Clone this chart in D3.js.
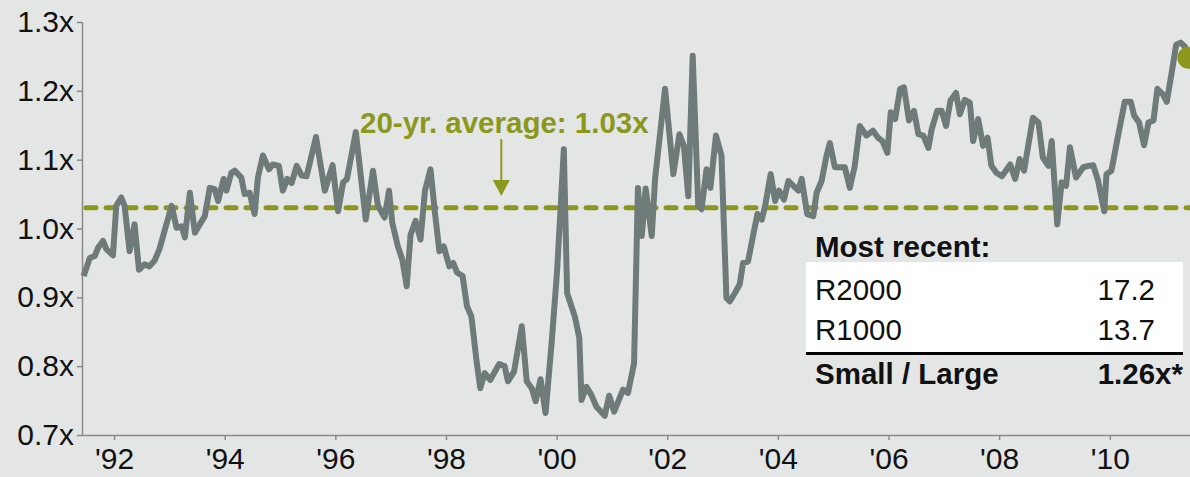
<!DOCTYPE html>
<html>
<head>
<meta charset="utf-8">
<script src="https://cdn.jsdelivr.net/npm/d3@7"></script>
<style>
  body { margin: 0; background: #e4e6e5; }
  svg { display: block; font-family: 'Liberation Sans', Arial, sans-serif; }
</style>
</head>
<body>
<svg width="1190" height="477"></svg>
<script>
const width = 1190, height = 477
const margin = { top: 22, right: 0, bottom: 42, left: 82 }

// Small / large cap forward P/E ratio
const years = [
  1991.45, 1991.56, 1991.65, 1991.71, 1991.80, 1991.86, 1991.98, 1992.04, 1992.13, 1992.19,
  1992.28, 1992.37, 1992.45, 1992.55, 1992.64, 1992.73, 1992.82, 1993.04, 1993.13, 1993.22,
  1993.28, 1993.37, 1993.46, 1993.55, 1993.64, 1993.73, 1993.82, 1993.88, 1993.98, 1994.03,
  1994.12, 1994.18, 1994.30, 1994.36, 1994.45, 1994.54, 1994.60, 1994.69, 1994.80, 1994.87,
  1994.98, 1995.05, 1995.13, 1995.21, 1995.30, 1995.39, 1995.48, 1995.65, 1995.81, 1995.95,
  1996.05, 1996.14, 1996.21, 1996.37, 1996.55, 1996.68, 1996.77, 1996.89, 1996.97, 1997.03,
  1997.13, 1997.21, 1997.29, 1997.36, 1997.45, 1997.54, 1997.62, 1997.72, 1997.80, 1997.88,
  1997.96, 1998.06, 1998.13, 1998.20, 1998.30, 1998.38, 1998.46, 1998.55, 1998.62, 1998.70,
  1998.80, 1998.96, 1999.06, 1999.12, 1999.23, 1999.37, 1999.46, 1999.55, 1999.62, 1999.71,
  1999.80, 1999.91, 2000.01, 2000.13, 2000.19, 2000.33, 2000.41, 2000.45, 2000.54, 2000.63,
  2000.72, 2000.87, 2000.95, 2001.04, 2001.20, 2001.29, 2001.40, 2001.47, 2001.54, 2001.61,
  2001.72, 2001.78, 2001.96, 2002.11, 2002.22, 2002.30, 2002.38, 2002.46, 2002.56, 2002.62,
  2002.71, 2002.78, 2002.88, 2002.98, 2003.07, 2003.13, 2003.22, 2003.31, 2003.37, 2003.46,
  2003.55, 2003.63, 2003.71, 2003.77, 2003.87, 2003.95, 2004.02, 2004.11, 2004.19, 2004.28,
  2004.37, 2004.43, 2004.53, 2004.64, 2004.70, 2004.79, 2004.88, 2004.94, 2005.03, 2005.21,
  2005.30, 2005.39, 2005.48, 2005.60, 2005.72, 2005.81, 2005.89, 2005.98, 2006.04, 2006.12,
  2006.21, 2006.28, 2006.37, 2006.46, 2006.54, 2006.63, 2006.72, 2006.78, 2006.88, 2006.96,
  2007.04, 2007.12, 2007.22, 2007.29, 2007.38, 2007.47, 2007.53, 2007.62, 2007.71, 2007.79,
  2007.86, 2007.95, 2008.05, 2008.20, 2008.29, 2008.37, 2008.45, 2008.61, 2008.71, 2008.79,
  2008.89, 2008.95, 2009.05, 2009.13, 2009.21, 2009.28, 2009.39, 2009.52, 2009.61, 2009.70,
  2009.79, 2009.90, 2009.94, 2010.03, 2010.15, 2010.27, 2010.38, 2010.44, 2010.53, 2010.62,
  2010.70, 2010.79, 2010.86, 2010.96, 2011.03, 2011.12, 2011.20, 2011.28, 2011.36, 2011.42
]
const ratio = [
  0.931, 0.957, 0.960, 0.972, 0.982, 0.970, 0.961, 1.033, 1.045, 1.033,
  0.967, 1.006, 0.940, 0.948, 0.945, 0.953, 0.970, 1.033, 1.001, 1.003,
  0.987, 1.052, 0.994, 1.006, 1.018, 1.059, 1.057, 1.040, 1.072, 1.055,
  1.081, 1.084, 1.074, 1.050, 1.052, 1.021, 1.074, 1.106, 1.086, 1.093,
  1.091, 1.055, 1.072, 1.066, 1.091, 1.077, 1.076, 1.133, 1.055, 1.092,
  1.025, 1.067, 1.072, 1.140, 1.013, 1.084, 1.033, 1.016, 1.055, 1.008,
  0.974, 0.955, 0.916, 0.991, 1.011, 0.984, 1.055, 1.086, 1.023, 0.967,
  0.974, 0.945, 0.950, 0.936, 0.931, 0.887, 0.872, 0.809, 0.768, 0.790,
  0.780, 0.803, 0.800, 0.778, 0.792, 0.858, 0.778, 0.768, 0.749, 0.781,
  0.732, 0.834, 0.940, 1.115, 0.906, 0.872, 0.841, 0.751, 0.770, 0.758,
  0.741, 0.728, 0.757, 0.734, 0.766, 0.761, 0.804, 1.059, 0.989, 1.058,
  0.989, 1.072, 1.203, 1.079, 1.137, 1.120, 1.047, 1.251, 1.033, 1.028,
  1.086, 1.059, 1.135, 1.106, 0.899, 0.894, 0.906, 0.919, 0.950, 0.952,
  0.989, 1.021, 1.013, 1.033, 1.079, 1.040, 1.055, 1.042, 1.069, 1.062,
  1.055, 1.072, 1.021, 1.018, 1.052, 1.069, 1.106, 1.124, 1.089, 1.089,
  1.059, 1.091, 1.149, 1.135, 1.142, 1.132, 1.127, 1.110, 1.169, 1.159,
  1.203, 1.205, 1.157, 1.171, 1.137, 1.135, 1.117, 1.144, 1.171, 1.171,
  1.149, 1.186, 1.197, 1.166, 1.187, 1.183, 1.127, 1.159, 1.120, 1.132,
  1.091, 1.081, 1.076, 1.093, 1.072, 1.101, 1.084, 1.161, 1.154, 1.103,
  1.091, 1.127, 1.006, 1.067, 1.062, 1.118, 1.074, 1.089, 1.091, 1.092,
  1.069, 1.025, 1.079, 1.084, 1.135, 1.184, 1.184, 1.164, 1.154, 1.121,
  1.154, 1.157, 1.203, 1.195, 1.184, 1.227, 1.267, 1.270, 1.264, 1.248
]
const average = 1.03
const yTicks = [0.7, 0.8, 0.9, 1.0, 1.1, 1.2, 1.3]
const xTicks = [1992, 1994, 1996, 1998, 2000, 2002, 2004, 2006, 2008, 2010]
const tableRows = [['R2000', '17.2'], ['R1000', '13.7']]
const tableTotal = ['Small / Large', '1.26x*']

const olive = '#8b981c'
const lineColor = '#6f7b79'
const axisColor = '#8a8a8a'
const fontSize = '29.5px'

const data = years.map((d, i) => ({ year: d, value: ratio[i] }))

const x = d3.scaleLinear()
  .domain([1991.42, 2011.45])
  .range([margin.left, width - margin.right])
const y = d3.scaleLinear()
  .domain([0.7, 1.3])
  .range([height - margin.bottom, margin.top])

const svg = d3.select('svg')

svg.append('rect')
  .attr('width', width)
  .attr('height', height)
  .attr('fill', '#e4e6e5')

// axes
const yAxis = svg.append('g')
  .attr('transform', 'translate(' + margin.left + ',0)')
  .call(d3.axisLeft(y).tickValues(yTicks).tickSize(5).tickPadding(3)
    .tickFormat(d => d3.format('.1f')(d) + 'x'))
const xAxis = svg.append('g')
  .attr('transform', 'translate(0,' + (height - margin.bottom) + ')')
  .call(d3.axisBottom(x).tickValues(xTicks).tickSize(5).tickPadding(8)
    .tickFormat(d => "'" + String(d).slice(2)))

svg.selectAll('.domain, .tick line')
  .attr('stroke', axisColor)
  .attr('stroke-width', 1.5)
svg.selectAll('.tick text')
  .attr('fill', '#111')
  .style('font-size', '30px')
yAxis.select('.domain').attr('d', 'M0.5,' + y(1.3) + 'V' + y(0.7))
xAxis.select('.domain').attr('d', 'M' + margin.left + ',0.5H' + width)

// average line
svg.append('line')
  .attr('x1', x.range()[0] + 4)
  .attr('x2', x.range()[1])
  .attr('y1', y(average))
  .attr('y2', y(average))
  .attr('stroke', olive)
  .attr('stroke-width', 5)
  .attr('stroke-linecap', 'round')
  .attr('stroke-dasharray', '10 10')

// ratio line
const line = d3.line()
  .x(d => x(d.year))
  .y(d => y(d.value))

svg.append('path')
  .datum(data)
  .attr('d', line)
  .attr('fill', 'none')
  .attr('stroke', lineColor)
  .attr('stroke-width', 6)
  .attr('stroke-linejoin', 'round')

const last = data[data.length - 1]
svg.append('circle')
  .attr('cx', x(last.year))
  .attr('cy', y(last.value))
  .attr('r', 11)
  .attr('fill', olive)

// annotation
svg.append('text')
  .attr('x', 360)
  .attr('y', 133)
  .attr('fill', olive)
  .style('font-size', fontSize)
  .style('font-weight', 'bold')
  .text('20-yr. average: ' + d3.format('.2f')(average) + 'x')

const ax = x(1999.0)
svg.append('line')
  .attr('x1', ax).attr('x2', ax)
  .attr('y1', 139).attr('y2', 182)
  .attr('stroke', olive)
  .attr('stroke-width', 2)
svg.append('path')
  .attr('d', 'M' + (ax - 8.5) + ',180L' + (ax + 8.5) + ',180L' + ax + ',196Z')
  .attr('fill', olive)

// most recent table
const tx = 806, tw = 377
svg.append('text')
  .attr('x', tx + 9).attr('y', 257)
  .style('font-size', fontSize).style('font-weight', 'bold')
  .attr('fill', '#111')
  .text('Most recent:')
svg.append('rect')
  .attr('x', tx).attr('y', 262)
  .attr('width', tw).attr('height', 90)
  .attr('fill', '#fff')
tableRows.forEach(function (r, i) {
  const ty = 300 + i * 40
  svg.append('text')
    .attr('x', tx + 9).attr('y', ty)
    .style('font-size', fontSize).attr('fill', '#111')
    .text(r[0])
  svg.append('text')
    .attr('x', 1155).attr('y', ty)
    .attr('text-anchor', 'end')
    .style('font-size', fontSize).attr('fill', '#111')
    .text(r[1])
})
svg.append('line')
  .attr('x1', tx).attr('x2', tx + tw)
  .attr('y1', 353.5).attr('y2', 353.5)
  .attr('stroke', '#000')
  .attr('stroke-width', 3)
svg.append('text')
  .attr('x', tx + 9).attr('y', 384)
  .style('font-size', fontSize).style('font-weight', 'bold')
  .attr('fill', '#111')
  .text(tableTotal[0])
svg.append('text')
  .attr('x', 1183).attr('y', 384)
  .attr('text-anchor', 'end')
  .style('font-size', fontSize).style('font-weight', 'bold')
  .attr('fill', '#111')
  .text(tableTotal[1])
</script>
</body>
</html>
